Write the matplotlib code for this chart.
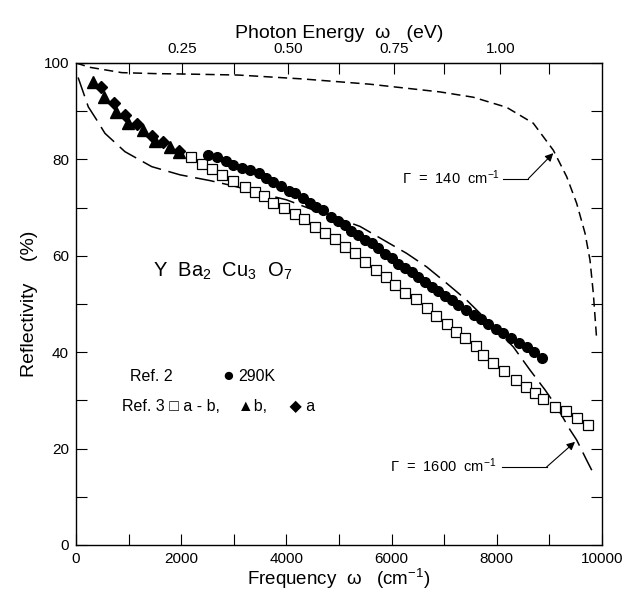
import numpy as np
import matplotlib
matplotlib.use('Agg')
import matplotlib.pyplot as plt

plt.rcParams['font.family'] = ['Liberation Sans', 'DejaVu Sans']
plt.rcParams['mathtext.fontset'] = 'custom'
plt.rcParams['mathtext.rm'] = 'Liberation Sans'
plt.rcParams['mathtext.default'] = 'rm'

# Ref. 2, 290K (filled circles)
circ_x = [2510, 2680, 2850, 2990, 3150, 3310, 3470, 3610, 3750, 3890, 4040, 4160,
          4310, 4450, 4560, 4690, 4850, 4980, 5110, 5230, 5360, 5490, 5620, 5750,
          5875, 6000, 6130, 6255, 6380, 6510, 6635, 6760, 6890, 7015, 7140, 7270,
          7410, 7560, 7705, 7840, 7980, 8124, 8275, 8420, 8568, 8707, 8853]
circ_y = [81.0, 80.4, 79.7, 78.9, 78.3, 77.8, 77.1, 76.1, 75.4, 74.5, 73.5, 73.0,
          71.9, 70.9, 70.2, 69.4, 68.1, 67.2, 66.3, 65.2, 64.3, 63.3, 62.6, 61.7,
          60.3, 59.5, 58.4, 57.5, 56.7, 55.7, 54.6, 53.6, 52.6, 51.7, 50.8, 49.8,
          48.7, 47.7, 46.8, 45.9, 44.9, 43.9, 42.9, 42.0, 41.0, 40.1, 38.9]

# Ref. 3, a-b (open squares)
sq_x = [2180, 2400, 2580, 2780, 2990, 3210, 3400, 3575, 3750, 3955, 4160, 4340,
        4545, 4735, 4930, 5120, 5310, 5495, 5700, 5890, 6065, 6255, 6465, 6665,
        6845, 7045, 7215, 7390, 7598, 7732, 7934, 8143, 8359, 8549, 8726, 8884,
        9106, 9316, 9518, 9740]
sq_y = [80.5, 79.0, 78.0, 76.8, 75.6, 74.2, 73.3, 72.5, 71.0, 70.0, 68.7, 67.6,
        66.0, 64.7, 63.4, 61.9, 60.5, 58.8, 57.1, 55.5, 53.9, 52.3, 51.0, 49.1,
        47.6, 45.9, 44.1, 42.9, 41.3, 39.4, 37.7, 36.1, 34.2, 32.7, 31.6, 30.2,
        28.7, 27.8, 26.4, 25.0]

# Ref. 3, b (triangles)
tri_x = [325, 540, 765, 990, 1280, 1502, 1795, 1965]
tri_y = [96.1, 93.0, 89.9, 87.6, 86.0, 83.8, 82.5, 81.6]

# Ref. 3, a (diamonds)
dia_x = [472, 720, 940, 1160, 1451, 1660, 1950]
dia_y = [95.0, 91.8, 89.2, 87.3, 84.9, 83.6, 81.8]

# model curve, Gamma = 140 cm^-1
g140_x = [0, 266, 870, 1500, 2135, 3086, 4300, 5589, 6920, 7553, 8187, 8694,
          9075, 9329, 9518, 9677, 9772, 9835, 9900]
g140_y = [100.0, 99.1, 98.0, 97.8, 97.7, 97.5, 96.7, 95.6, 94.0, 92.9, 90.8, 87.5,
          81.9, 76.4, 70.9, 64.7, 59.1, 52.2, 42.5]

# model curve, Gamma = 1600 cm^-1
g1600_x = [40, 234, 393, 551, 931, 1439, 1977, 2548, 2991, 3498, 4005, 4511,
           5019, 5399, 5843, 6287, 6667, 7047, 7427, 7744, 8061, 8314, 8631,
           8916, 9138, 9392, 9518, 9708, 9867]
g1600_y = [97.0, 90.9, 88.2, 85.4, 81.6, 78.5, 76.8, 75.6, 74.5, 73.0, 71.6, 69.5,
           67.6, 66.1, 63.3, 60.5, 57.7, 54.3, 50.8, 47.4, 43.9, 41.1, 36.3,
           32.2, 28.7, 23.9, 21.8, 17.6, 14.2]

cm_per_ev = 8065.5
ev_ticks = [0.25, 0.50, 0.75, 1.00]

fig = plt.figure(figsize=(6.34, 5.95), dpi=100)
ax = fig.add_axes([76 / 634, 1 - 545 / 595, 526 / 634, 482 / 595])

l1, = ax.plot(g140_x, g140_y, color='black', lw=1.1)
l1.set_dashes((6, 3.5))
l2, = ax.plot(g1600_x, g1600_y, color='black', lw=1.1)
l2.set_dashes((13, 5))

ax.plot(sq_x, sq_y, 's', ms=6.5, mfc='white', mec='black', mew=0.9)
ax.plot(circ_x, circ_y, 'o', ms=7, color='black')
ax.plot(tri_x, tri_y, '^', ms=8, color='black')
ax.plot(dia_x, dia_y, 'D', ms=6, color='black')

ax.set_xlim(0, 10000)
ax.set_ylim(0, 100)
ax.set_xticks(np.arange(0, 10001, 2000))
ax.set_xticks(np.arange(1000, 10000, 2000), minor=True)
ax.set_yticks(np.arange(0, 101, 20))
ax.set_yticks(np.arange(10, 100, 20), minor=True)
ax.tick_params(which='both', direction='in', length=8, width=0.8,
               labelsize=11, pad=5, right=True)
for s in ax.spines.values():
    s.set_linewidth(1.0)

sec = ax.secondary_xaxis('top', functions=(lambda x: x / cm_per_ev,
                                          lambda e: e * cm_per_ev))
sec.set_xticks(ev_ticks)
sec.set_xticklabels(['%.2f' % e for e in ev_ticks])
sec.set_xticks(np.arange(1000, 10000, 2000) / cm_per_ev, minor=True)
sec.tick_params(which='both', direction='in', length=8, width=0.8,
                labelsize=11, pad=5)
sec.set_xlabel('Photon Energy  ω   (eV)', fontsize=14, labelpad=3)

ax.set_xlabel('Frequency  ω   (cm$^{-1}$)', fontsize=13.5, labelpad=1)
ax.set_ylabel('Reflectivity    (%)', fontsize=14, labelpad=4)

ax.text(1464, 56.7, 'Y  Ba$_2$  Cu$_3$  O$_7$', fontsize=14.5, va='center')

ax.text(1027, 34.9, 'Ref. 2', fontsize=11.5, va='center')
ax.text(2780, 34.9, '●', fontsize=14, va='center')
ax.text(3080, 34.9, '290K', fontsize=11.5, va='center')
ax.text(875, 28.8, 'Ref. 3 □ a - b,    ▲b,     ◆ a', fontsize=11.5, va='center')

# Gamma annotations
ax.text(6190, 76.1, 'Γ  =  140  cm$^{-1}$', fontsize=10.5, va='center')
ax.plot([8118, 8599], [76.0, 76.0], color='black', lw=0.8)
ax.annotate('', xy=(9074, 81.3), xytext=(8599, 76.0),
            arrowprops=dict(arrowstyle='-|>', color='black', lw=0.8,
                            mutation_scale=12, shrinkA=0, shrinkB=0))

ax.text(5970, 16.5, 'Γ  =  1600  cm$^{-1}$', fontsize=10.5, va='center')
ax.plot([8093, 8948], [16.2, 16.2], color='black', lw=0.8)
ax.annotate('', xy=(9487, 21.4), xytext=(8948, 16.2),
            arrowprops=dict(arrowstyle='-|>', color='black', lw=0.8,
                            mutation_scale=12, shrinkA=0, shrinkB=0))

fig.savefig('out.png', dpi=100)
